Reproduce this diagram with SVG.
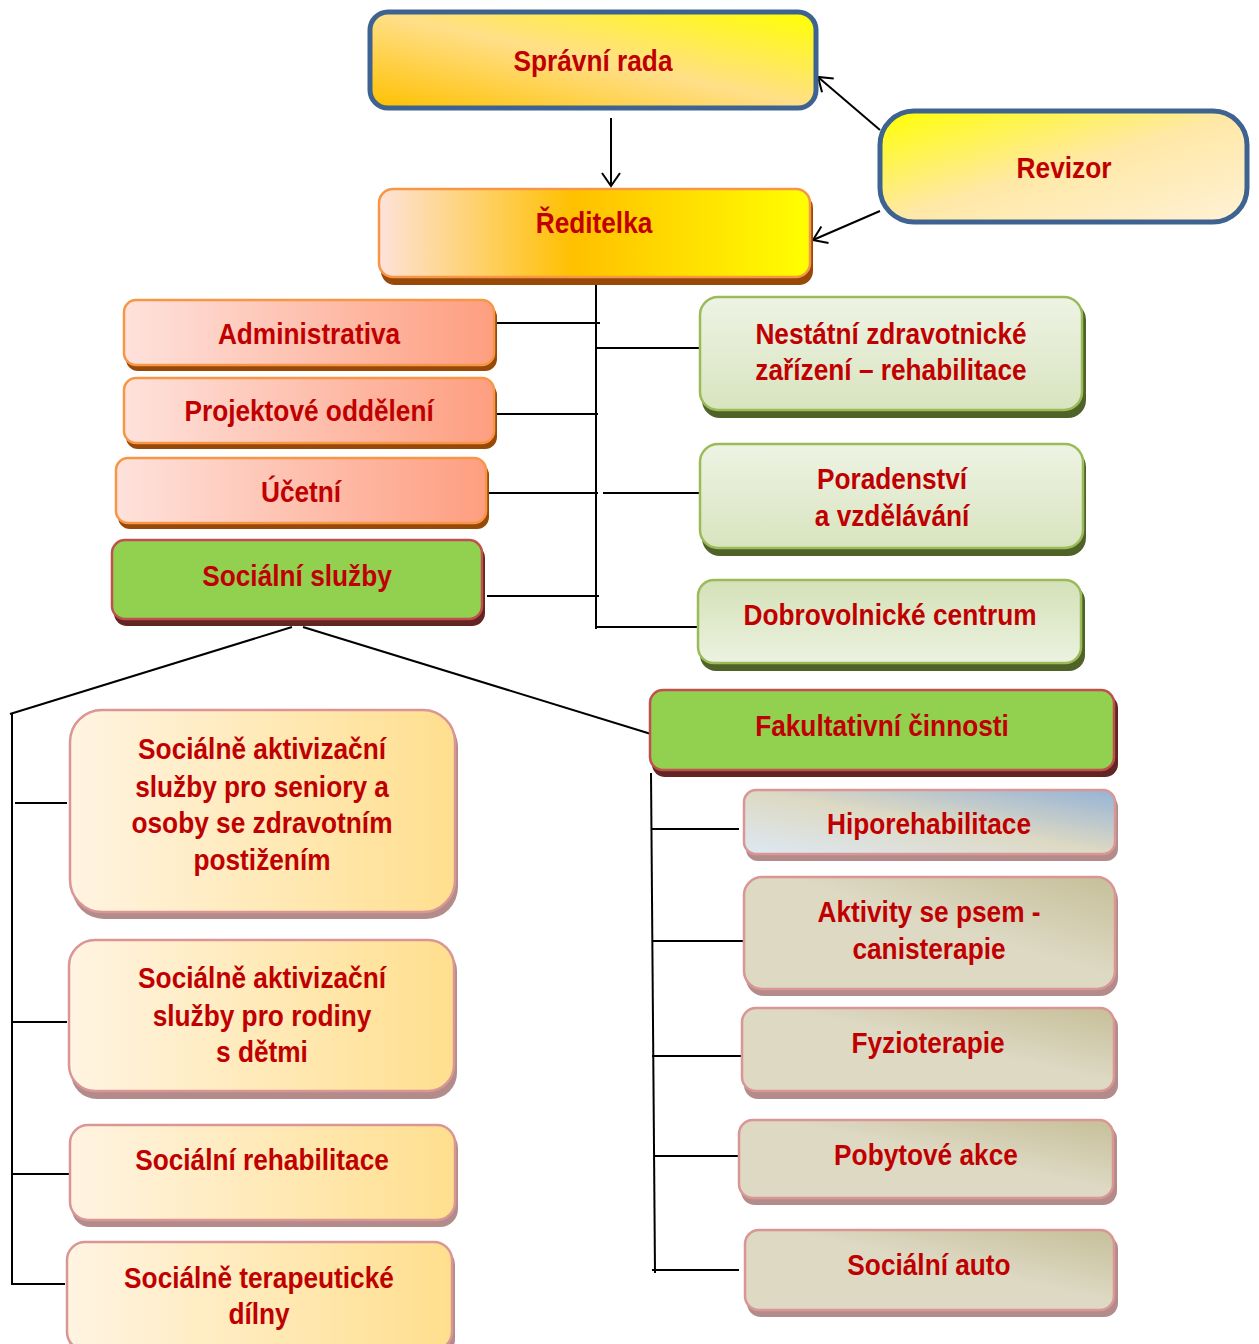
<svg xmlns="http://www.w3.org/2000/svg" width="1259" height="1344" viewBox="0 0 1259 1344">
<defs>
<linearGradient id="gSpr" x1="0" y1="1" x2="1" y2="0"><stop offset="0" stop-color="#ffc000"/><stop offset="0.5" stop-color="#ffdf88"/><stop offset="1" stop-color="#ffff00"/></linearGradient>
<linearGradient id="gRed" x1="0" y1="0" x2="1" y2="0"><stop offset="0" stop-color="#fde2da"/><stop offset="0.45" stop-color="#ffc000"/><stop offset="1" stop-color="#ffff00"/></linearGradient>
<linearGradient id="gRev" x1="0" y1="0" x2="1" y2="1"><stop offset="0" stop-color="#ffff00"/><stop offset="0.5" stop-color="#ffe8a6"/><stop offset="1" stop-color="#fff1d6"/></linearGradient>
<linearGradient id="gOr" x1="0" y1="0" x2="1" y2="0"><stop offset="0" stop-color="#fee2dc"/><stop offset="1" stop-color="#fe9e80"/></linearGradient>
<linearGradient id="gGr" x1="0" y1="0" x2="0" y2="1"><stop offset="0" stop-color="#eef3e4"/><stop offset="1" stop-color="#d8e4bf"/></linearGradient>
<linearGradient id="gGrR" x1="0" y1="0" x2="0" y2="1"><stop offset="0" stop-color="#d4e1b7"/><stop offset="1" stop-color="#ecf2e0"/></linearGradient>
<linearGradient id="gCr" x1="0" y1="0" x2="1" y2="0"><stop offset="0" stop-color="#fff4e2"/><stop offset="1" stop-color="#ffdf8e"/></linearGradient>
<linearGradient id="gTan" x1="0" y1="1" x2="1" y2="0"><stop offset="0" stop-color="#ddd9c3"/><stop offset="0.55" stop-color="#ddd9c3"/><stop offset="1" stop-color="#c6bf99"/></linearGradient>
<linearGradient id="gHip" x1="0" y1="1" x2="1" y2="0"><stop offset="0" stop-color="#dde8f3"/><stop offset="0.5" stop-color="#ddd9c3"/><stop offset="1" stop-color="#95b3d7"/></linearGradient>
<marker id="arr" markerWidth="16" markerHeight="20" refX="14" refY="10" orient="auto" markerUnits="userSpaceOnUse"><path d="M1,1 L14,10 L1,19" fill="none" stroke="#000" stroke-width="2"/></marker>
</defs>
<style>
text{font-family:"Liberation Sans Narrow","Arial Narrow","Liberation Sans",Arial,sans-serif;font-weight:bold;font-size:30px;fill:#c00000;text-anchor:middle;transform-box:fill-box;transform-origin:center;transform:scaleX(0.875)}
.c line,.c polyline{stroke:#000;stroke-width:2;fill:none}
.blue{stroke:#3e6391;stroke-width:5}
.or{fill:url(#gOr);stroke:#f79646;stroke-width:2.5}
.orS{fill:#984807}
.gr{fill:#92d050;stroke:#c0504d;stroke-width:2.5}
.grS{fill:#632523}
.lg{stroke:#9bbb59;stroke-width:2.5}
.lgS{fill:#4f6228}
.cr{fill:url(#gCr);stroke:#d99694;stroke-width:2.5}
.tn{stroke:#d99694;stroke-width:2.5}
.pS{fill:#b38b8b}
</style>
<g class="c" id="connectors">
<line x1="611" y1="118" x2="611" y2="186" marker-end="url(#arr)"/>
<line x1="880" y1="130" x2="818" y2="77" marker-end="url(#arr)"/>
<line x1="880" y1="211" x2="813" y2="240" marker-end="url(#arr)"/>
<line x1="596" y1="285" x2="596" y2="629"/>
<line x1="495" y1="323" x2="600" y2="323"/>
<line x1="495" y1="414" x2="598" y2="414"/>
<line x1="487" y1="493" x2="598" y2="493"/>
<line x1="603" y1="493" x2="700" y2="493"/>
<line x1="487" y1="596" x2="599" y2="596"/>
<line x1="596" y1="348" x2="700" y2="348"/>
<line x1="596" y1="627" x2="698" y2="627"/>
<line x1="292" y1="627" x2="10" y2="714"/>
<line x1="303" y1="627" x2="651" y2="734"/>
<line x1="12" y1="714" x2="12" y2="1285"/>
<line x1="15" y1="803" x2="67" y2="803"/>
<line x1="12" y1="1022" x2="67" y2="1022"/>
<line x1="12" y1="1174" x2="70" y2="1174"/>
<line x1="12" y1="1284" x2="65" y2="1284"/>
<line x1="651" y1="773" x2="655" y2="1273"/>
<line x1="652" y1="829" x2="739" y2="829"/>
<line x1="652" y1="941" x2="744" y2="941"/>
<line x1="652" y1="1056" x2="743" y2="1056"/>
<line x1="655" y1="1156" x2="743" y2="1156"/>
<line x1="652" y1="1270" x2="739" y2="1270"/>
</g>
<g id="spravni-rada">
<rect x="370" y="12" width="446" height="96" rx="18" fill="url(#gSpr)" class="blue"/>
<text x="593" y="71">Správní rada</text>
</g>
<g id="revizor">
<rect x="880" y="111" width="367" height="111" rx="34" fill="url(#gRev)" class="blue"/>
<text x="1064" y="178">Revizor</text>
</g>
<g id="reditelka">
<rect x="381" y="194" width="432" height="91" rx="14" class="orS"/>
<rect x="379" y="189" width="431" height="88" rx="14" fill="url(#gRed)" stroke="#f79646" stroke-width="2.5"/>
<text x="594" y="233">Ředitelka</text>
</g>
<g id="administrativa">
<rect x="126" y="305" width="371" height="66" rx="12" class="orS"/>
<rect x="124" y="300" width="370" height="65" rx="12" class="or"/>
<text x="309" y="344">Administrativa</text>
</g>
<g id="projektove">
<rect x="126" y="383" width="371" height="66" rx="12" class="orS"/>
<rect x="124" y="378" width="370" height="65" rx="12" class="or"/>
<text x="309" y="421">Projektové oddělení</text>
</g>
<g id="ucetni">
<rect x="118" y="463" width="371" height="66" rx="12" class="orS"/>
<rect x="116" y="458" width="370" height="65" rx="12" class="or"/>
<text x="301" y="502">Účetní</text>
</g>
<g id="socialni-sluzby">
<rect x="114" y="545" width="371" height="81" rx="13" class="grS"/>
<rect x="112" y="540" width="370" height="79" rx="13" class="gr"/>
<text x="297" y="586">Sociální služby</text>
</g>
<g id="nestatni">
<rect x="702" y="302" width="384" height="116" rx="18" class="lgS"/>
<rect x="700" y="297" width="382" height="113" rx="18" fill="url(#gGr)" class="lg"/>
<text x="891" y="344">Nestátní zdravotnické</text>
<text x="891" y="380">zařízení – rehabilitace</text>
</g>
<g id="poradenstvi">
<rect x="702" y="449" width="384" height="107" rx="18" class="lgS"/>
<rect x="700" y="444" width="383" height="104" rx="18" fill="url(#gGr)" class="lg"/>
<text x="892" y="489">Poradenství</text>
<text x="892" y="526">a vzdělávání</text>
</g>
<g id="dobrovolnicke">
<rect x="700" y="585" width="385" height="86" rx="16" class="lgS"/>
<rect x="698" y="580" width="383" height="83" rx="16" fill="url(#gGrR)" class="lg"/>
<text x="890" y="625">Dobrovolnické centrum</text>
</g>
<g id="fakultativni">
<rect x="652" y="695" width="466" height="82" rx="13" class="grS"/>
<rect x="650" y="690" width="464" height="80" rx="13" class="gr"/>
<text x="882" y="736">Fakultativní činnosti</text>
</g>
<g id="hiporehabilitace">
<rect x="746" y="795" width="372" height="66" rx="12" class="pS"/>
<rect x="744" y="790" width="371" height="64" rx="12" fill="url(#gHip)" class="tn"/>
<text x="929" y="834">Hiporehabilitace</text>
</g>
<g id="aktivity">
<rect x="746" y="882" width="372" height="114" rx="18" class="pS"/>
<rect x="744" y="877" width="371" height="112" rx="18" fill="url(#gTan)" class="tn"/>
<text x="929" y="922">Aktivity se psem -</text>
<text x="929" y="959">canisterapie</text>
</g>
<g id="fyzioterapie">
<rect x="744" y="1013" width="374" height="86" rx="14" class="pS"/>
<rect x="742" y="1008" width="372" height="83" rx="14" fill="url(#gTan)" class="tn"/>
<text x="928" y="1053">Fyzioterapie</text>
</g>
<g id="pobytove">
<rect x="741" y="1125" width="376" height="80" rx="14" class="pS"/>
<rect x="739" y="1120" width="374" height="78" rx="14" fill="url(#gTan)" class="tn"/>
<text x="926" y="1165">Pobytové akce</text>
</g>
<g id="socialni-auto">
<rect x="747" y="1235" width="371" height="82" rx="14" class="pS"/>
<rect x="745" y="1230" width="369" height="80" rx="14" fill="url(#gTan)" class="tn"/>
<text x="929" y="1275">Sociální auto</text>
</g>
<g id="aktivizacni-seniory">
<rect x="72" y="715" width="386" height="204" rx="32" class="pS"/>
<rect x="70" y="710" width="385" height="202" rx="32" class="cr"/>
<text x="262" y="759">Sociálně aktivizační</text>
<text x="262" y="797">služby pro seniory a</text>
<text x="262" y="833">osoby se zdravotním</text>
<text x="262" y="870">postižením</text>
</g>
<g id="aktivizacni-rodiny">
<rect x="71" y="945" width="386" height="154" rx="26" class="pS"/>
<rect x="69" y="940" width="385" height="151" rx="26" class="cr"/>
<text x="262" y="988">Sociálně aktivizační</text>
<text x="262" y="1026">služby pro rodiny</text>
<text x="262" y="1062">s dětmi</text>
</g>
<g id="rehabilitace">
<rect x="72" y="1130" width="386" height="97" rx="18" class="pS"/>
<rect x="70" y="1125" width="385" height="95" rx="18" class="cr"/>
<text x="262" y="1170">Sociální rehabilitace</text>
</g>
<g id="terapeuticke">
<rect x="69" y="1247" width="386" height="110" rx="18" class="pS"/>
<rect x="67" y="1242" width="385" height="108" rx="18" class="cr"/>
<text x="259" y="1288">Sociálně terapeutické</text>
<text x="259" y="1324">dílny</text>
</g>
</svg>
